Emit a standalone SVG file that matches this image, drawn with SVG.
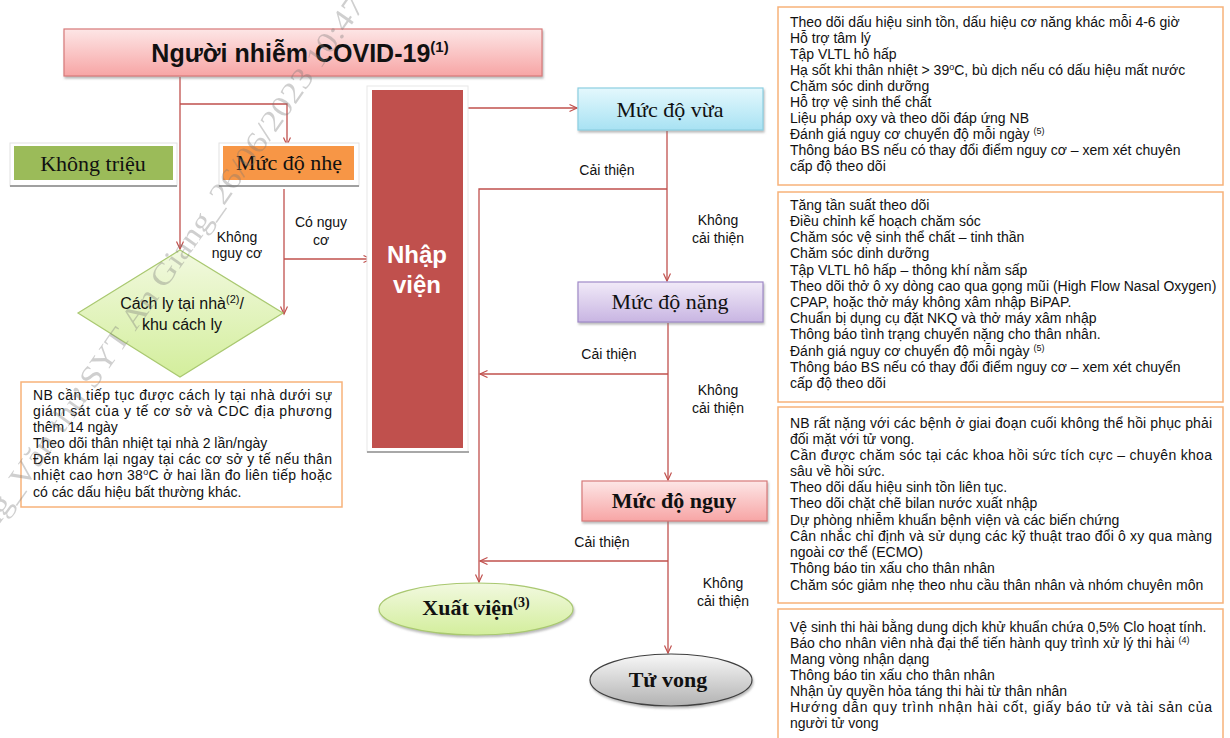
<svg xmlns="http://www.w3.org/2000/svg" width="1230" height="738" viewBox="0 0 1230 738">
<defs>
<linearGradient id="gPink" x1="0" y1="0" x2="0" y2="1"><stop offset="0" stop-color="#fde6e6"/><stop offset="1" stop-color="#f7a5a5"/></linearGradient>
<linearGradient id="gCyan" x1="0" y1="0" x2="0" y2="1"><stop offset="0" stop-color="#e4f8fd"/><stop offset="1" stop-color="#a8e2f3"/></linearGradient>
<linearGradient id="gPurple" x1="0" y1="0" x2="0" y2="1"><stop offset="0" stop-color="#f1eaf8"/><stop offset="1" stop-color="#c8b5e2"/></linearGradient>
<linearGradient id="gGreen" x1="0" y1="0" x2="0" y2="1"><stop offset="0" stop-color="#f2f9e0"/><stop offset="1" stop-color="#d3ee9c"/></linearGradient>
<linearGradient id="gGray" x1="0" y1="0" x2="0" y2="1"><stop offset="0" stop-color="#f8f8f8"/><stop offset="1" stop-color="#b2b2b2"/></linearGradient>
<filter id="sh" x="-10%" y="-20%" width="120%" height="150%"><feDropShadow dx="1" dy="2" stdDeviation="1.2" flood-color="#808080" flood-opacity="0.55"/></filter>
<marker id="ar" markerUnits="userSpaceOnUse" markerWidth="10" markerHeight="10" refX="8" refY="4" orient="auto"><path d="M0.5,0.5 L8,4 L0.5,7.5" fill="none" stroke="#c0504d" stroke-width="1.2"/></marker>
<style>
.ser{font-family:"Liberation Serif","Times New Roman",serif;font-size:22px;fill:#111}
.serb{font-family:"Liberation Serif","Times New Roman",serif;font-size:22px;font-weight:bold;fill:#111}
.lbl{font-family:"Liberation Sans",Arial,sans-serif;font-size:14px;fill:#111}
.bx{font-family:"Liberation Sans",Arial,sans-serif;font-size:14px;fill:#111}
.box{fill:#fff;stroke:#f7b27a;stroke-width:1.5}
.con{fill:none;stroke:#c0504d;stroke-width:1.3;marker-end:url(#ar)}
.lin{fill:none;stroke:#c0504d;stroke-width:1.3}
</style>
</defs>
<rect width="1230" height="738" fill="#fff"/>

<g id="connectors">
<path class="con" d="M180,77 V249"/>
<path class="con" d="M180,104 H287 V145"/>
<path class="con" d="M284,189 V314"/>
<path class="con" d="M284,259 H371"/>
<path class="con" d="M466,108 H577"/>
<path class="con" d="M667,131 V281"/>
<path class="con" d="M667,189 H479 V582"/>
<path class="con" d="M668,323 V480"/>
<path class="con" d="M668,374 H480"/>
<path class="con" d="M668,521 V653"/>
<path class="con" d="M668,561 H480"/>
<text class="lbl" x="237" y="242" text-anchor="middle">Không</text>
<text class="lbl" x="237" y="258" text-anchor="middle">nguy cơ</text>
<text class="lbl" x="321" y="227" text-anchor="middle">Có nguy</text>
<text class="lbl" x="321" y="245" text-anchor="middle">cơ</text>
<text class="lbl" x="607" y="175" text-anchor="middle">Cải thiện</text>
<text class="lbl" x="718" y="225" text-anchor="middle">Không</text>
<text class="lbl" x="718" y="243" text-anchor="middle">cải thiện</text>
<text class="lbl" x="609" y="359" text-anchor="middle">Cải thiện</text>
<text class="lbl" x="718" y="395" text-anchor="middle">Không</text>
<text class="lbl" x="718" y="413" text-anchor="middle">cải thiện</text>
<text class="lbl" x="602" y="547" text-anchor="middle">Cải thiện</text>
<text class="lbl" x="723" y="588" text-anchor="middle">Không</text>
<text class="lbl" x="723" y="606" text-anchor="middle">cải thiện</text>
</g>

<g id="n-title">
<rect x="64" y="29" width="478" height="47" fill="url(#gPink)" stroke="#d77a7a" stroke-width="1.2" filter="url(#sh)"/>
<text x="300" y="62" text-anchor="middle" font-family="'Liberation Sans',Arial,sans-serif" font-size="25" font-weight="bold" fill="#111">Người nhiễm COVID-19<tspan font-size="15" dy="-10">(1)</tspan></text>
</g>

<g id="n-khongtrieu">
<rect x="10" y="143" width="167" height="43" fill="#fff" stroke="#e2e2e2"/>
<line x1="10" y1="186" x2="177" y2="186" stroke="#a0a0a0" stroke-width="2"/>
<rect x="14" y="146" width="159" height="34" fill="#9bbb59"/>
<text class="ser" x="93" y="171" text-anchor="middle">Không triệu</text>
</g>

<g id="n-nhe">
<rect x="219" y="143" width="140" height="43" fill="#fff" stroke="#e2e2e2"/>
<line x1="219" y1="186" x2="359" y2="186" stroke="#a0a0a0" stroke-width="2"/>
<rect x="223" y="146" width="131" height="34" fill="#f79646"/>
<text class="ser" x="289" y="170" text-anchor="middle">Mức độ nhẹ</text>
</g>

<g id="n-cachly">
<polygon points="180,250 283,313 180,377 78,313" fill="url(#gGreen)" stroke="#a9c870" stroke-width="1.2"/>
<text x="182" y="309" text-anchor="middle" font-family="'Liberation Sans',Arial,sans-serif" font-size="16" fill="#111">Cách ly tại nhà<tspan font-size="11" dy="-6">(2)</tspan><tspan dy="6">/</tspan></text>
<text x="182" y="330" text-anchor="middle" font-family="'Liberation Sans',Arial,sans-serif" font-size="16" fill="#111">khu cách ly</text>
</g>

<g id="n-cachly-note">
<rect class="box" x="21" y="382" width="321" height="125"/>
<text class="bx" x="33" y="400" textLength="299" lengthAdjust="spacing">NB cần tiếp tục được cách ly tại nhà dưới sự</text>
<text class="bx" x="33" y="416" textLength="299" lengthAdjust="spacing">giám sát của y tế cơ sở và CDC địa phương</text>
<text class="bx" x="33" y="432">thêm 14 ngày</text>
<text class="bx" x="33" y="448">Theo dõi thân nhiệt tại nhà 2 lần/ngày</text>
<text class="bx" x="33" y="464" textLength="299" lengthAdjust="spacing">Đến khám lại ngay tại các cơ sở y tế nếu thân</text>
<text class="bx" x="33" y="480" textLength="299" lengthAdjust="spacing">nhiệt cao hơn 38<tspan font-size="9" dy="-5">o</tspan><tspan dy="5">C ở hai lần đo liên tiếp hoặc</tspan></text>
<text class="bx" x="33" y="497">có các dấu hiệu bất thường khác.</text>
</g>

<g id="n-nhapvien">
<rect x="367" y="86" width="101" height="366" fill="#fff" stroke="#e8e8e8"/>
<line x1="367" y1="452" x2="469" y2="452" stroke="#a8a8a8" stroke-width="2"/>
<rect x="372" y="90" width="91" height="358" fill="#c0504d"/>
<text x="417" y="263" text-anchor="middle" font-family="'Liberation Sans',Arial,sans-serif" font-size="24" font-weight="bold" fill="#fff">Nhập</text>
<text x="417" y="293" text-anchor="middle" font-family="'Liberation Sans',Arial,sans-serif" font-size="24" font-weight="bold" fill="#fff">viện</text>
</g>

<g id="n-vua">
<rect x="578" y="88" width="185" height="42" fill="url(#gCyan)" stroke="#8ccfe2" stroke-width="1.2" filter="url(#sh)"/>
<text class="ser" x="670" y="117" text-anchor="middle">Mức độ vừa</text>
</g>

<g id="n-nang">
<rect x="578" y="282" width="185" height="40" fill="url(#gPurple)" stroke="#a08ac8" stroke-width="1.2" filter="url(#sh)"/>
<text class="ser" x="670" y="309" text-anchor="middle">Mức độ nặng</text>
</g>

<g id="n-nguy">
<rect x="582" y="481" width="185" height="40" fill="url(#gPink)" stroke="#d77a7a" stroke-width="1.2" filter="url(#sh)"/>
<text class="serb" x="674" y="508" text-anchor="middle">Mức độ nguy</text>
</g>

<g id="n-xuatvien">
<ellipse cx="476" cy="609" rx="97" ry="26" fill="url(#gGreen)" stroke="#a9c870" stroke-width="1.2" filter="url(#sh)"/>
<text class="serb" x="476" y="615" text-anchor="middle">Xuất viện<tspan font-size="14" dy="-8">(3)</tspan></text>
</g>

<g id="n-tuvong">
<ellipse cx="671" cy="680" rx="81" ry="26" fill="url(#gGray)" stroke="#404040" stroke-width="1.2" filter="url(#sh)"/>
<text class="serb" x="668" y="687" text-anchor="middle">Tử vong</text>
</g>

<g id="n-box-vua">
<rect class="box" x="778" y="7" width="445" height="178"/>
<text class="bx" x="790" y="27">Theo dõi dấu hiệu sinh tồn, dấu hiệu cơ năng khác mỗi 4-6 giờ</text>
<text class="bx" x="790" y="43">Hỗ trợ tâm lý</text>
<text class="bx" x="790" y="59">Tập VLTL hô hấp</text>
<text class="bx" x="790" y="75">Hạ sốt khi thân nhiệt &gt; 39<tspan font-size="9" dy="-5">o</tspan><tspan dy="5">C, bù dịch nếu có dấu hiệu mất nước</tspan></text>
<text class="bx" x="790" y="91">Chăm sóc dinh dưỡng</text>
<text class="bx" x="790" y="107">Hỗ trợ vệ sinh thể chất</text>
<text class="bx" x="790" y="123">Liệu pháp oxy và theo dõi đáp ứng NB</text>
<text class="bx" x="790" y="139">Đánh giá nguy cơ chuyển độ mỗi ngày <tspan font-size="9" dy="-5">(5)</tspan></text>
<text class="bx" x="790" y="155">Thông báo BS nếu có thay đổi điểm nguy cơ – xem xét chuyên</text>
<text class="bx" x="790" y="171">cấp độ theo dõi</text>
</g>

<g id="n-box-nang">
<rect class="box" x="778" y="192" width="445" height="210"/>
<text class="bx" x="790" y="210">Tăng tần suất theo dõi</text>
<text class="bx" x="790" y="226">Điều chỉnh kế hoạch chăm sóc</text>
<text class="bx" x="790" y="242">Chăm sóc vệ sinh thể chất – tinh thần</text>
<text class="bx" x="790" y="258">Chăm sóc dinh dưỡng</text>
<text class="bx" x="790" y="275">Tập VLTL hô hấp – thông khí nằm sấp</text>
<text class="bx" x="790" y="291">Theo dõi thở ô xy dòng cao qua gọng mũi (High Flow Nasal Oxygen)</text>
<text class="bx" x="790" y="307">CPAP, hoặc thở máy không xâm nhập BiPAP.</text>
<text class="bx" x="790" y="323">Chuẩn bị dụng cụ đặt NKQ và thở máy xâm nhập</text>
<text class="bx" x="790" y="339">Thông báo tình trạng chuyển nặng cho thân nhân.</text>
<text class="bx" x="790" y="356">Đánh giá nguy cơ chuyển độ mỗi ngày <tspan font-size="9" dy="-5">(5)</tspan></text>
<text class="bx" x="790" y="372">Thông báo BS nếu có thay đổi điểm nguy cơ – xem xét chuyển</text>
<text class="bx" x="790" y="388">cấp độ theo dõi</text>
</g>

<g id="n-box-nguy">
<rect class="box" x="778" y="407" width="445" height="196"/>
<text class="bx" x="790" y="428" textLength="422" lengthAdjust="spacing">NB rất nặng với các bệnh ở giai đoạn cuối không thể hồi phục phải</text>
<text class="bx" x="790" y="444">đối mặt với tử vong.</text>
<text class="bx" x="790" y="460" textLength="422" lengthAdjust="spacing">Cần được chăm sóc tại các khoa hồi sức tích cực – chuyên khoa</text>
<text class="bx" x="790" y="476">sâu về hồi sức.</text>
<text class="bx" x="790" y="492">Theo dõi dấu hiệu sinh tồn liên tục.</text>
<text class="bx" x="790" y="508">Theo dõi chặt chẽ bilan nước xuất nhập</text>
<text class="bx" x="790" y="525">Dự phòng nhiễm khuẩn bệnh viện và các biến chứng</text>
<text class="bx" x="790" y="541" textLength="422" lengthAdjust="spacing">Cân nhắc chỉ định và sử dụng các kỹ thuật trao đổi ô xy qua màng</text>
<text class="bx" x="790" y="557">ngoài cơ thể (ECMO)</text>
<text class="bx" x="790" y="573">Thông báo tin xấu cho thân nhân</text>
<text class="bx" x="790" y="590">Chăm sóc giảm nhẹ theo nhu cầu thân nhân và nhóm chuyên môn</text>
</g>

<g id="n-box-tuvong">
<rect class="box" x="778" y="609" width="445" height="140"/>
<text class="bx" x="790" y="632">Vệ sinh thi hài bằng dung dịch khử khuẩn chứa 0,5% Clo hoạt tính.</text>
<text class="bx" x="790" y="648">Báo cho nhân viên nhà đại thể tiến hành quy trình xử lý thi hài <tspan font-size="9" dy="-5">(4)</tspan></text>
<text class="bx" x="790" y="664">Mang vòng nhận dạng</text>
<text class="bx" x="790" y="680">Thông báo tin xấu cho thân nhân</text>
<text class="bx" x="790" y="696">Nhận ủy quyền hỏa táng thi hài từ thân nhân</text>
<text class="bx" x="790" y="712" textLength="422" lengthAdjust="spacing">Hướng dẫn quy trình nhận hài cốt, giấy báo tử và tài sản của</text>
<text class="bx" x="790" y="728">người tử vong</text>
</g>

<g id="watermark" opacity="0.35">
<text transform="translate(-6,532) rotate(-54.8)" font-family="'Liberation Serif','Times New Roman',serif" font-size="30" fill="#777" textLength="645" lengthAdjust="spacingAndGlyphs">ng_Văn thư SYT An Giang_26/06/2023 10:47</text>
</g>
</svg>
